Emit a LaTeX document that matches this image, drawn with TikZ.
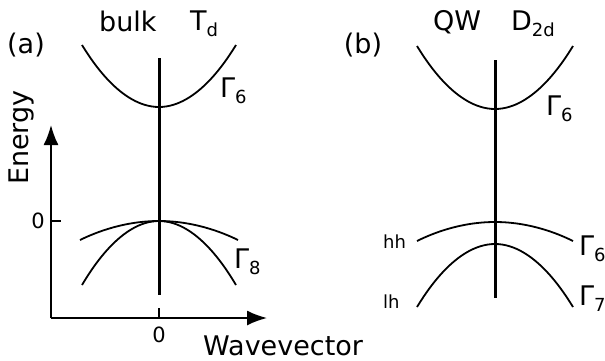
\documentclass[tikz,border=0pt]{standalone}
\usepackage{fontspec}
\setmainfont{DejaVu Sans}
\usetikzlibrary{arrows.meta}

\newcommand{\lowsub}[1]{\raisebox{-6pt}{\fontsize{18}{18}\selectfont #1}}

\tikzset{
  band/.style={line width=1.8pt},
  kline/.style={line width=3pt},
  axis/.style={line width=1.8pt},
  lbl/.style={inner sep=0pt, font=\fontsize{27}{30}\selectfont},
  small/.style={inner sep=0pt, font=\fontsize{21}{24}\selectfont},
  tiny/.style={inner sep=0pt, font=\fontsize{18}{20}\selectfont}
}

\begin{document}
\begin{tikzpicture}[x=1pt, y=-1pt]
  \useasboundingbox (0,0) rectangle (605,360);
  % panel (a): bulk
  \node[lbl] (pa) at (26,45) {(a)};
  \node[lbl, anchor=base west] (bulk) at (99,31) {bulk};
  \node[lbl, anchor=base west] (td) at (190,30) {T\lowsub{d}};
  % axes
  \coordinate (origin) at (51,318);
  \draw[axis, -{Latex[length=20pt,width=15pt]}] (origin) -- (51,125);
  \draw[axis, -{Latex[length=20pt,width=15pt]}] (origin) -- (267,318);
  \draw[axis] (51,221) -- (61,221);
  \draw[axis] (159,308) -- (159,318);
  \node[small, anchor=base east] (ezero) at (45,228) {0};
  \node[small, anchor=base] (kzero) at (159,342) {0};
  \node[lbl, anchor=base west, rotate=90] (energy) at (28,185) {Energy};
  \node[lbl, anchor=base west] (wave) at (203,355) {Wavevector};
  % k = 0
  \draw[kline] (159,58) -- (159,295);
  % conduction band
  \draw[band] (82,45) parabola bend (159,107) (236,45);
  \node[lbl, anchor=base west] (ga6) at (220,97) {Γ\lowsub{6}};
  % valence bands
  \draw[band] (80,240) parabola bend (159,221) (238,240);
  \draw[band] (82,285) parabola bend (159,221) (236,285);
  \node[lbl, anchor=base west] (ga8) at (234,268) {Γ\lowsub{8}};
  % panel (b): quantum well
  \node[lbl] (pb) at (363,45) {(b)};
  \node[lbl, anchor=base west] (qw) at (433,30) {QW};
  \node[lbl, anchor=base west] (dtwod) at (511,30) {D\lowsub{2d}};
  \draw[kline] (495,60) -- (495,298);
  \draw[band] (417,46) parabola bend (495,109) (573,46);
  \node[lbl, anchor=base west] (gb6) at (546,115) {Γ\lowsub{6}};
  % hh and lh
  \draw[band] (417,241) parabola bend (495,222) (573,241);
  \draw[band] (417,307) parabola bend (495,244) (573,307);
  \node[tiny, anchor=base west] (hh) at (383,248) {hh};
  \node[tiny, anchor=base west] (lh) at (383,308) {lh};
  \node[lbl, anchor=base west] (ghh) at (579,255) {Γ\lowsub{6}};
  \node[lbl, anchor=base west] (glh) at (579,305) {Γ\lowsub{7}};
\end{tikzpicture}
\end{document}
